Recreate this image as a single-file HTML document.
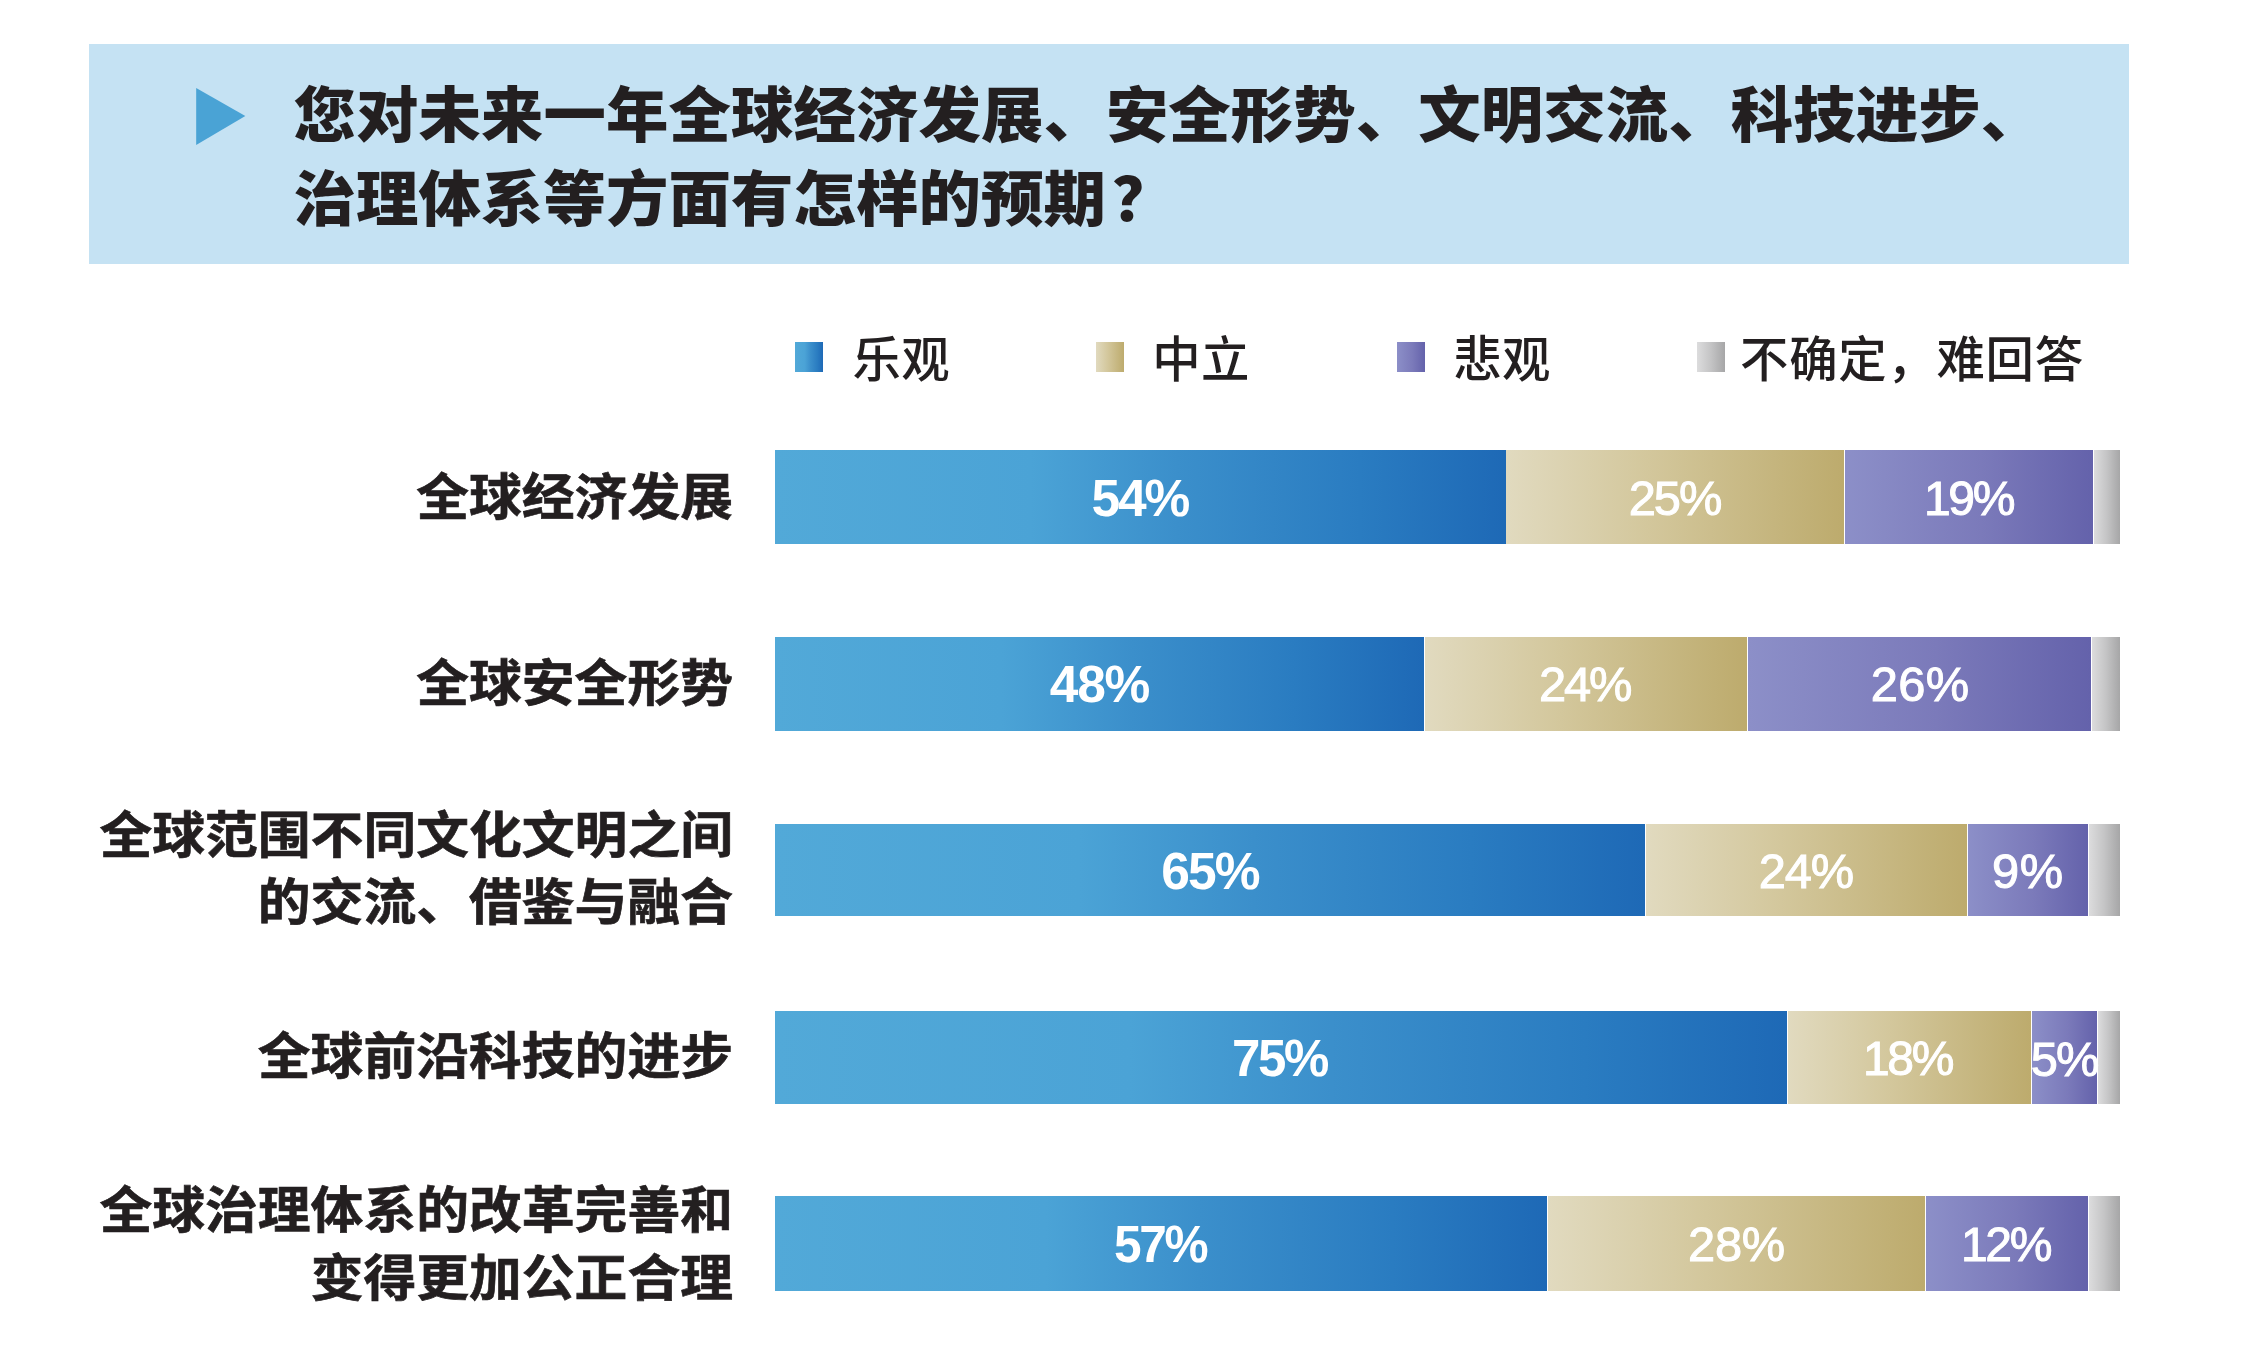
<!DOCTYPE html>
<html lang="zh-CN">
<head>
<meta charset="utf-8">
<title>全球预期调查</title>
<style>
html,body{margin:0;padding:0;background:#fff;}
body{width:2243px;height:1350px;position:relative;overflow:hidden;font-family:"Liberation Sans","Noto Sans CJK SC",sans-serif;color:#231f20;}
.abs{position:absolute;}
.hdr{left:89px;top:44px;width:2040px;height:219.5px;background:#c5e2f3;}
.tri{left:196px;top:88px;width:49.5px;height:57px;}
.title{left:293.5px;white-space:nowrap;font-family:"Liberation Sans","Noto Sans CJK SC",sans-serif;font-weight:900;font-size:62.4px;letter-spacing:0.1px;line-height:84px;height:84px;color:#231f20;transform:scaleY(0.967);transform-origin:0 100%;}
.lg{top:342px;width:28px;height:30px;}
.lt{top:325px;height:70px;line-height:70px;font-size:48.4px;font-weight:500;letter-spacing:0.3px;white-space:nowrap;color:#231f20;}
.seg{position:absolute;}
.num{position:absolute;white-space:nowrap;transform-origin:0 50%;color:#fff;font-family:"Liberation Sans",sans-serif;line-height:60px;height:60px;}
.nb{font-weight:700;font-size:51.5px;}
.nm{font-weight:400;font-size:48.8px;-webkit-text-stroke:1px #fff;}
.b{background:linear-gradient(90deg,#52a9d8 0%,#4ba3d6 35%,#3b8fcb 55%,#2a7cc1 80%,#1e69b6 100%);}
.e{background:linear-gradient(90deg,#e1dabf 0%,#d3c79c 42%,#bdab6d 100%);}
.p{background:linear-gradient(90deg,#8c8fc8 0%,#7b7aba 55%,#6462ab 100%);}
.g{background:linear-gradient(90deg,#dcdcdd 0%,#c4c4c5 50%,#a6a6a7 100%);}
.lab{right:1510px;white-space:nowrap;text-align:right;font-weight:700;-webkit-text-stroke:0.7px #231f20;font-size:52.8px;line-height:68px;height:68px;color:#231f20;transform:scaleY(0.95);transform-origin:100% 52%;}
</style>
</head>
<body>
<div class="abs hdr"></div>
<svg class="abs tri" viewBox="0 0 50 58"><polygon points="0,0 50,28.5 0,58" fill="#4aa3d5"/></svg>
<div class="abs title" style="top:73px">您对未来一年全球经济发展、安全形势、文明交流、科技进步、</div>
<div class="abs title" style="top:157px">治理体系等方面有怎样的预期<span style="position:relative;left:6px">？</span></div>
<div class="abs lg b" style="left:795px"></div><div class="abs lt" style="left:852.5px">乐观</div>
<div class="abs lg e" style="left:1096px"></div><div class="abs lt" style="left:1152.3px">中立</div>
<div class="abs lg p" style="left:1397px"></div><div class="abs lt" style="left:1453.3px">悲观</div>
<div class="abs lg g" style="left:1697px"></div><div class="abs lt" style="left:1740.1px;letter-spacing:0.7px">不确定，难回答</div>
<div class="seg b" style="left:775px;top:449.5px;width:730.6px;height:94.2px"></div>
<div class="seg e" style="left:1506.4px;top:449.5px;width:337.6px;height:94.2px"></div>
<div class="seg p" style="left:1844.8px;top:449.5px;width:248.6px;height:94.2px"></div>
<div class="seg g" style="left:2094.2px;top:449.5px;width:25.8px;height:94.2px"></div>
<div class="num nb" style="left:1091.5px;top:467.6px;letter-spacing:-2.2px;transform:scaleX(1.0)">54%</div>
<div class="num nm" style="left:1628.7px;top:467.6px;letter-spacing:-2.0px;transform:scaleX(1.0)">25%</div>
<div class="num nm" style="left:1924.15px;top:467.6px;letter-spacing:-2.4px;transform:scaleX(0.9853)">19%</div>
<div class="abs lab" style="top:463.5px">全球经济发展</div>
<div class="seg b" style="left:775px;top:636.8px;width:649.1px;height:94.2px"></div>
<div class="seg e" style="left:1424.9px;top:636.8px;width:322.1px;height:94.2px"></div>
<div class="seg p" style="left:1747.8px;top:636.8px;width:343.6px;height:94.2px"></div>
<div class="seg g" style="left:2092.2px;top:636.8px;width:27.8px;height:94.2px"></div>
<div class="num nb" style="left:1049.65px;top:654.2px;letter-spacing:-1.15px;transform:scaleX(1.0)">48%</div>
<div class="num nm" style="left:1539.0px;top:654.2px;letter-spacing:-2.1px;transform:scaleX(1.0)">24%</div>
<div class="num nm" style="left:1870.75px;top:654.2px;letter-spacing:0.35px;transform:scaleX(1.0)">26%</div>
<div class="abs lab" style="top:650px">全球安全形势</div>
<div class="seg b" style="left:775px;top:824.0px;width:870.4px;height:92.2px"></div>
<div class="seg e" style="left:1646.2px;top:824.0px;width:320.5px;height:92.2px"></div>
<div class="seg p" style="left:1967.5px;top:824.0px;width:120.3px;height:92.2px"></div>
<div class="seg g" style="left:2088.6px;top:824.0px;width:31.4px;height:92.2px"></div>
<div class="num nb" style="left:1161.15px;top:840.6px;letter-spacing:-1.85px;transform:scaleX(1.0)">65%</div>
<div class="num nm" style="left:1758.85px;top:840.6px;letter-spacing:-1.15px;transform:scaleX(1.0)">24%</div>
<div class="num nm" style="left:1992.0px;top:840.6px;letter-spacing:0.6px;transform:scaleX(1.0)">9%</div>
<div class="abs lab" style="top:802px">全球范围不同文化文明之间</div>
<div class="abs lab" style="top:869px">的交流、借鉴与融合</div>
<div class="seg b" style="left:775px;top:1011.0px;width:1011.9px;height:92.7px"></div>
<div class="seg e" style="left:1787.7px;top:1011.0px;width:243.7px;height:92.7px"></div>
<div class="seg p" style="left:2032.2px;top:1011.0px;width:64.9px;height:92.7px"></div>
<div class="seg g" style="left:2097.9px;top:1011.0px;width:22.1px;height:92.7px"></div>
<div class="num nb" style="left:1231.75px;top:1028.1px;letter-spacing:-2.4px;transform:scaleX(0.9904)">75%</div>
<div class="num nm" style="left:1862.55px;top:1028.1px;letter-spacing:-2.4px;transform:scaleX(0.983)">18%</div>
<div class="num nm" style="left:2030.65px;top:1029.1px;letter-spacing:-1.7px;transform:scaleX(1.0)">5%</div>
<div class="abs lab" style="top:1023px">全球前沿科技的进步</div>
<div class="seg b" style="left:775px;top:1196.0px;width:772.1px;height:95.0px"></div>
<div class="seg e" style="left:1547.9px;top:1196.0px;width:377.3px;height:95.0px"></div>
<div class="seg p" style="left:1926.0px;top:1196.0px;width:161.8px;height:95.0px"></div>
<div class="seg g" style="left:2088.6px;top:1196.0px;width:31.4px;height:95.0px"></div>
<div class="num nb" style="left:1114.25px;top:1214.4px;letter-spacing:-2.4px;transform:scaleX(0.9628)">57%</div>
<div class="num nm" style="left:1688.1px;top:1214.4px;letter-spacing:-0.3px;transform:scaleX(1.0)">28%</div>
<div class="num nm" style="left:1961.0px;top:1214.4px;letter-spacing:-2.4px;transform:scaleX(0.9839)">12%</div>
<div class="abs lab" style="top:1177px">全球治理体系的改革完善和</div>
<div class="abs lab" style="top:1244.5px">变得更加公正合理</div>
</body>
</html>
